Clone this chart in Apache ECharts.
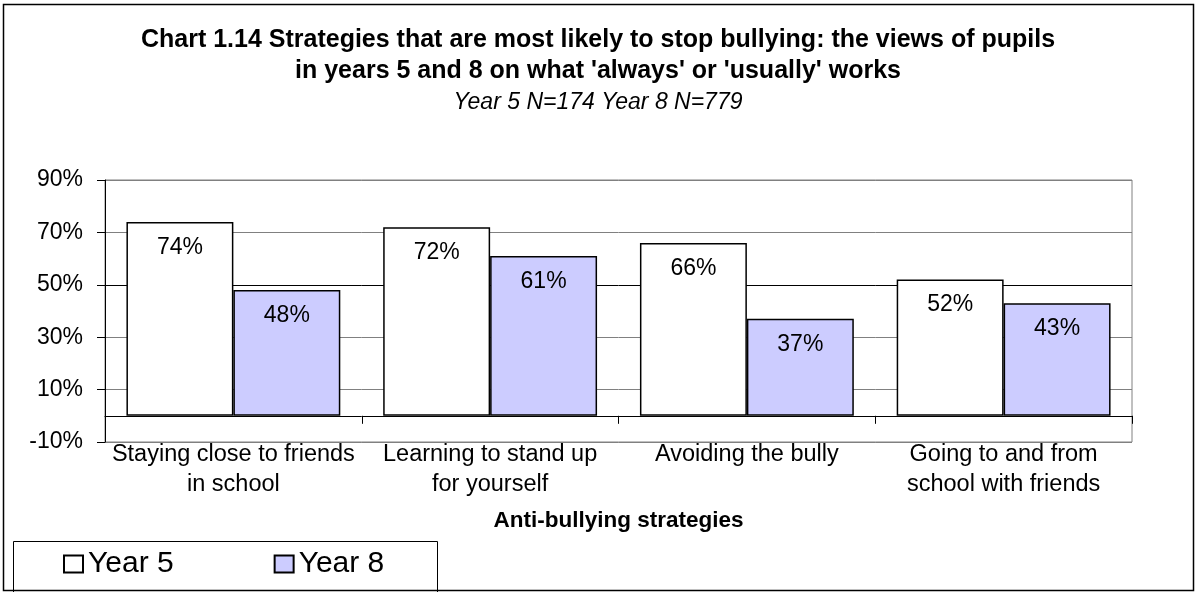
<!DOCTYPE html>
<html>
<head>
<meta charset="utf-8">
<script src="https://cdn.jsdelivr.net/npm/echarts@6/dist/echarts.min.js"></script>
<style>
html,body{margin:0;padding:0;background:#fff;}
#chart{width:1196px;height:592px;}
</style>
</head>
<body>
<div id="chart"></div>
<script>
const categories = ['Staying close to friends\nin school', 'Learning to stand up\nfor yourself', 'Avoiding the bully', 'Going to and from\nschool with friends'];
const year5 = [74, 72, 66, 52];
const year8 = [48, 61, 37, 43];
const seriesNames = ['Year 5', 'Year 8'];
const yTicks = [-10, 10, 30, 50, 70, 90];
const titleLines = ['Chart 1.14 Strategies that are most likely to stop bullying: the views of pupils', 'in years 5 and 8 on what \'always\' or \'usually\' works'];
const subtitle = 'Year 5 N=174 Year 8 N=779';

const FONT = '"Liberation Sans", Arial, sans-serif';
const chart = echarts.init(document.getElementById('chart'));

chart.setOption({
  backgroundColor: '#fff',
  animation: false,
  textStyle: { fontFamily: FONT, color: '#000' },
  title: [
    {
      text: titleLines[0], left: 'center', top: 25, padding: 0,
      textStyle: { fontFamily: FONT, fontSize: 25, fontWeight: 'bold', color: '#000', lineHeight: 30 }
    },
    {
      text: titleLines[1], left: 'center', top: 56, padding: 0,
      textStyle: { fontFamily: FONT, fontSize: 25, fontWeight: 'bold', color: '#000', lineHeight: 30 }
    },
    {
      text: subtitle, left: 'center', top: 90, padding: 0,
      textStyle: { fontFamily: FONT, fontSize: 23, fontStyle: 'italic', fontWeight: 'normal', color: '#000', lineHeight: 26 }
    }
  ],
  legend: {
    left: 63, top: 548, padding: 0,
    itemWidth: 19, itemHeight: 17, itemGap: 100,
    icon: 'rect',
    textStyle: { fontFamily: FONT, fontSize: 30, color: '#000', lineHeight: 32 },
    data: seriesNames
  },
  grid: {
    left: 105, right: 64, top: 180, bottom: 150,
    show: true, borderColor: '#808080', borderWidth: 1, backgroundColor: 'transparent'
  },
  xAxis: {
    type: 'category',
    data: categories,
    axisLine: { onZero: true, lineStyle: { color: '#000', width: 1 } },
    axisTick: { show: true, alignWithLabel: false, length: 8, lineStyle: { color: '#000' } },
    axisLabel: { fontFamily: FONT, fontSize: 23.5, color: '#000', margin: -2, lineHeight: 30, interval: 0 },
    name: 'Anti-bullying strategies',
    nameLocation: 'middle',
    nameGap: 67,
    nameTextStyle: { fontFamily: FONT, fontSize: 22.5, fontWeight: 'bold', color: '#000' }
  },
  yAxis: {
    type: 'value',
    min: -10, max: 90, interval: 20,
    axisLine: { show: true, lineStyle: { color: '#000' } },
    axisTick: { show: true, length: 8, lineStyle: { color: '#000' } },
    axisLabel: { fontFamily: FONT, fontSize: 23, color: '#000', margin: 22, formatter: v => yTicks.includes(v) ? v + '%' : '' },
    splitLine: { show: true, lineStyle: { color: ['#808080', '#808080', '#808080', '#000000', '#808080', '#808080'], width: 1 } }
  },
  series: [
    {
      name: seriesNames[0], type: 'bar', data: year5,
      barGap: '0%', barCategoryGap: '16.7%',
      itemStyle: { color: '#ffffff', borderColor: '#000', borderWidth: 1.5 },
      label: { show: true, position: 'insideTop', distance: 14, formatter: p => p.value + '%', fontFamily: FONT, fontSize: 23, color: '#000' }
    },
    {
      name: seriesNames[1], type: 'bar', data: year8,
      barGap: '0%', barCategoryGap: '16.7%',
      itemStyle: { color: '#ccccff', borderColor: '#000', borderWidth: 1.5 },
      label: { show: true, position: 'insideTop', distance: 14, formatter: p => p.value + '%', fontFamily: FONT, fontSize: 23, color: '#000' }
    }
  ],
  graphic: [
    { type: 'rect', shape: { x: 3.5, y: 4.5, width: 1190, height: 586 }, style: { fill: 'none', stroke: '#000', lineWidth: 1.5 }, z: -1 },
    { type: 'rect', shape: { x: 13.5, y: 541.5, width: 424, height: 60 }, style: { fill: 'none', stroke: '#000', lineWidth: 1 }, z: -1 }
  ]
});
</script>
</body>
</html>
